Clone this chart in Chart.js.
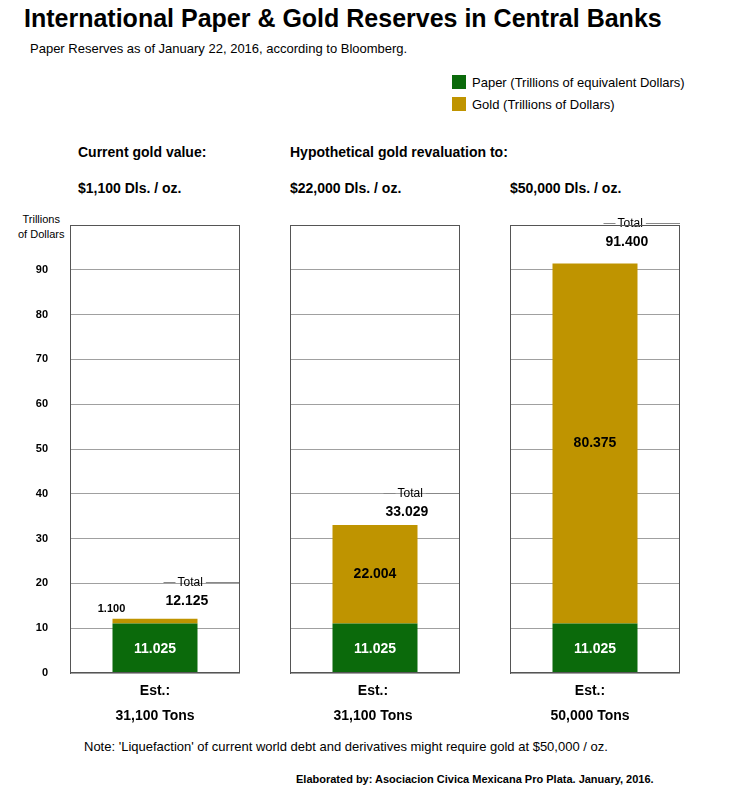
<!DOCTYPE html>
<html><head><meta charset="utf-8">
<script src="https://cdn.jsdelivr.net/npm/chart.js@4"></script>
<style>
body{margin:0;width:730px;height:796px;background:#fff;font-family:"Liberation Sans",Arial,sans-serif;position:relative;overflow:hidden}
.t{position:absolute;white-space:nowrap;color:#000}
.b{font-weight:bold}
canvas{position:absolute}
.sw{display:inline-block;width:14px;height:14px;vertical-align:-2px;margin-right:6px}
</style></head><body>
<div class="t b" style="left:24px;top:4px;font-size:25px">International Paper &amp; Gold Reserves in Central Banks</div>
<div class="t" style="left:30px;top:41px;font-size:13px">Paper Reserves as of January 22, 2016, according to Bloomberg.</div>
<div class="t" style="left:452px;top:75px;font-size:13px"><span class="sw" style="background:#0b6a0b"></span>Paper (Trillions of equivalent Dollars)</div>
<div class="t" style="left:452px;top:97px;font-size:13px"><span class="sw" style="background:#bf9400"></span>Gold (Trillions of Dollars)</div>
<div class="t b" style="left:78px;top:144px;font-size:14px">Current gold value:</div>
<div class="t b" style="left:290px;top:144px;font-size:14px">Hypothetical gold revaluation to:</div>
<div class="t b" style="left:78px;top:180px;font-size:14px">$1,100 Dls. / oz.</div>
<div class="t b" style="left:290px;top:180px;font-size:14px">$22,000 Dls. / oz.</div>
<div class="t b" style="left:510px;top:180px;font-size:14px">$50,000 Dls. / oz.</div>
<div class="t" style="left:18px;top:212px;font-size:11px;text-align:center;line-height:15px">Trillions<br>of Dollars</div>
<div class="t" style="left:84px;top:739px;font-size:13px">Note: 'Liquefaction' of current world debt and derivatives might require gold at $50,000 / oz.</div>
<div class="t b" style="left:296px;top:773px;font-size:11px">Elaborated by: Asociacion Civica Mexicana Pro Plata. January, 2016.</div>
<canvas id="c0" style="left:0;top:215px;width:245px;height:475px" width="245" height="475"></canvas>
<canvas id="c1" style="left:285px;top:215px;width:180px;height:475px" width="180" height="475"></canvas>
<canvas id="c2" style="left:505px;top:215px;width:180px;height:475px" width="180" height="475"></canvas>
<script>
const scenarios = ["Est.:\n31,100 Tons", "Est.:\n31,100 Tons", "Est.:\n50,000 Tons"];
const paper = [11.025, 11.025, 11.025];
const gold = [1.100, 22.004, 80.375];
const totals = [12.125, 33.029, 91.400];
const yTicks = [0, 10, 20, 30, 40, 50, 60, 70, 80, 90];
const green = "#0b6a0b", goldC = "#bf9400";
const calloutGap = [37, 32, 41];

const xlPos = [155, 373, 590];
xlPos.forEach((x, i) => {
  const d = document.createElement("div");
  d.className = "t b"; d.style.cssText = `left:${x - 60}px;width:120px;text-align:center;top:678px;font-size:14px;line-height:25px;white-space:pre`;
  d.textContent = scenarios[i];
  document.body.appendChild(d);
});

const labelPlugin = {
  id: "labels",
  afterDatasetsDraw(chart) {
    const i = chart.options.idx, c = chart.ctx;
    const y = chart.scales.y, area = chart.chartArea;
    const bar = chart.getDatasetMeta(0).data[0];
    const cx = bar.x, half = bar.width / 2;
    c.save();
    c.textBaseline = "middle";
    if (i === 0) {
      c.font = "bold 11px 'Liberation Sans', Arial";
      c.fillStyle = "#000"; c.textAlign = "right";
      yTicks.forEach(v => c.fillText(String(v), area.left - 22, y.getPixelForValue(v)));
    }
    c.font = "bold 14px 'Liberation Sans', Arial";
    c.textAlign = "center";
    c.fillStyle = "#fff";
    c.fillText(paper[i].toFixed(3), cx, y.getPixelForValue(paper[i] / 2) + 1);
    c.fillStyle = "#000";
    if (i > 0) {
      c.fillText(gold[i].toFixed(3), cx, y.getPixelForValue(paper[i] + gold[i] / 2));
    } else {
      c.font = "bold 11px 'Liberation Sans', Arial";
      c.fillText(gold[i].toFixed(3), cx - half - 1, y.getPixelForValue(totals[i]) - 10);
    }
    const ty = Math.round(y.getPixelForValue(totals[i]) - calloutGap[i]) + 0.5;
    c.strokeStyle = "#888"; c.lineWidth = 1;
    c.font = "12px 'Liberation Sans', Arial";
    c.textAlign = "left";
    const tx = cx + half - 20;
    const tw = c.measureText("Total").width;
    c.beginPath();
    c.moveTo(tx - 14, ty); c.lineTo(tx - 2, ty);
    c.moveTo(tx + tw + 3, ty); c.lineTo(area.right, ty);
    c.stroke();
    c.fillText("Total", tx, ty);
    c.font = "bold 14px 'Liberation Sans', Arial";
    c.fillText(totals[i].toFixed(3), tx - 12, ty + 19);
    c.restore();
  }
};

function makeChart(i) {
  const first = i === 0;
  new Chart(document.getElementById("c" + i), {
    type: "bar",
    data: {
      labels: [scenarios[i]],
      datasets: [
        { label: "Paper", data: [paper[i]], backgroundColor: green },
        { label: "Gold", data: [gold[i]], backgroundColor: goldC }
      ]
    },
    options: {
      idx: i,
      responsive: false, animation: false,
      layout: { padding: { top: 10, bottom: 17, left: first ? 70 : 5, right: 5 } },
      datasets: { bar: { barPercentage: 0.5, categoryPercentage: 1 } },
      plugins: { legend: { display: false }, tooltip: { enabled: false } },
      scales: {
        x: { stacked: true, display: false },
        y: {
          stacked: true, min: 0, max: 100,
          afterBuildTicks: s => { s.ticks = yTicks.concat([100]).map(v => ({ value: v })); },
          afterFit: s => { s.width = 0; },
          grid: { color: "#a0a0a0", drawTicks: false },
          border: { display: true, color: "#555" },
          ticks: { display: false }
        }
      }
    },
    plugins: [labelPlugin, {
      id: "frame",
      afterDraw(ch) {
        const a = ch.chartArea, c = ch.ctx;
        c.save(); c.strokeStyle = "#555"; c.lineWidth = 1;
        c.strokeRect(a.left + 0.5, a.top + 0.5, a.width - 1, a.height - 1);
        c.restore();
      }
    }]
  });
}
[0, 1, 2].forEach(makeChart);
</script>
</body></html>
